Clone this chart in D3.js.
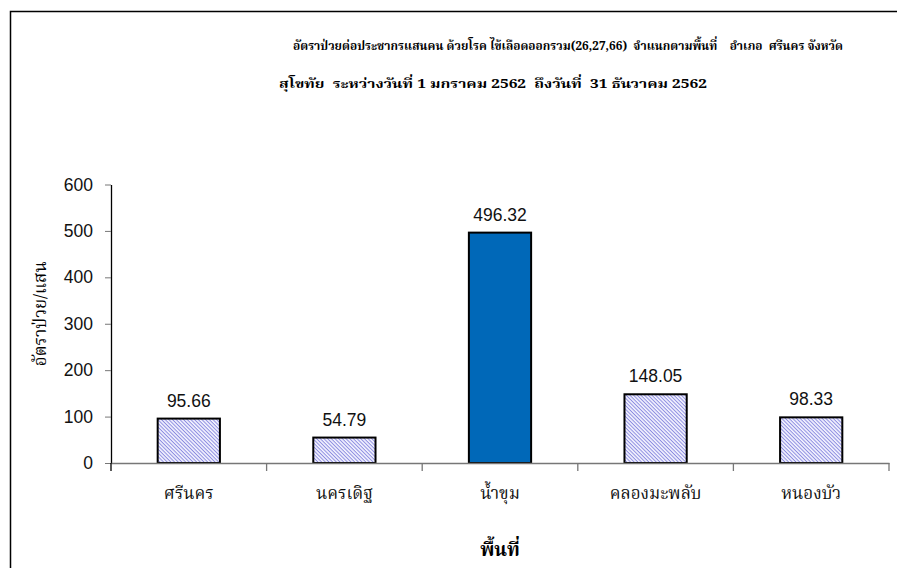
<!DOCTYPE html>
<html>
<head>
<meta charset="utf-8">
<script src="https://cdn.jsdelivr.net/npm/d3@7/dist/d3.min.js"></script>
<style>
  html, body { margin: 0; padding: 0; background: #fff; }
  svg { display: block; }
</style>
</head>
<body>
<svg id="chart" width="897" height="568"></svg>
<script>
const categories = ["ศรีนคร", "นครเดิฐ", "น้ำขุม", "คลองมะพลับ", "หนองบัว"];
const values = [95.66, 54.79, 496.32, 148.05, 98.33];
const highlighted = [false, false, true, false, false];
const yTicks = [0, 100, 200, 300, 400, 500, 600];
const titleLine1 = "อัตราป่วยต่อประชากรแสนคน ด้วยโรค ไข้เลือดออกรวม(26,27,66)  จำแนกตามพื้นที่    อำเภอ  ศรีนคร จังหวัด";
const titleLine2 = "สุโขทัย  ระหว่างวันที่ 1 มกราคม 2562  ถึงวันที่  31 ธันวาคม 2562";
const yTitle = "อัตราป่วย/แสน";
const xTitle = "พื้นที่";

const svg = d3.select("#chart");
const thaiFont = "'Noto Serif Thai', 'Noto Sans Thai', 'Tlwg Typo', 'Loma', 'DejaVu Serif', serif";
const numFont = "'Liberation Sans', Arial, sans-serif";

// outer frame
svg.append("path")
  .attr("d", "M10.5,568 L10.5,11.5 L897,11.5")
  .attr("fill", "none").attr("stroke", "#000").attr("stroke-width", 1.5);

// hatch pattern
const defs = svg.append("defs");
const pat = defs.append("pattern")
  .attr("id", "hatch").attr("patternUnits", "userSpaceOnUse")
  .attr("width", 2.6).attr("height", 2.6)
  .attr("patternTransform", "rotate(45)");
pat.append("rect").attr("width", 2.6).attr("height", 2.6).attr("fill", "#f4f4ff");
pat.append("rect").attr("width", 2.6).attr("height", 1.0).attr("fill", "#8c8ce0");

const pLeft = 111, pRight = 889, pTop = 184.5, pBottom = 463;
const x = d3.scaleBand().domain(categories).range([pLeft, pRight]).paddingInner(0.6).paddingOuter(0.3);
const xb = d3.scaleBand().domain(categories).range([pLeft, pRight]);
const y = d3.scaleLinear().domain([0, 600]).range([pBottom, pTop]);

// titles
svg.append("text").attr("x", 293).attr("y", 50)
  .style("white-space", "pre")
  .attr("font-family", thaiFont).attr("font-weight", "bold").attr("font-size", 13)
  .attr("textLength", 550).attr("lengthAdjust", "spacingAndGlyphs")
  .text(titleLine1);
svg.append("text").attr("x", 279).attr("y", 88)
  .style("white-space", "pre")
  .attr("font-family", thaiFont).attr("font-weight", "bold").attr("font-size", 13)
  .attr("textLength", 428).attr("lengthAdjust", "spacingAndGlyphs")
  .text(titleLine2);

// bars
svg.selectAll("rect.bar").data(categories).enter().append("rect")
  .attr("class", "bar")
  .attr("x", d => x(d))
  .attr("width", x.bandwidth())
  .attr("y", (d, i) => y(values[i]))
  .attr("height", (d, i) => y(0) - y(values[i]))
  .attr("fill", (d, i) => highlighted[i] ? "#0068b8" : "url(#hatch)")
  .attr("stroke", "#000").attr("stroke-width", 2);

// value labels
svg.selectAll("text.val").data(categories).enter().append("text")
  .attr("class", "val")
  .attr("x", d => x(d) + x.bandwidth() / 2)
  .attr("y", (d, i) => y(values[i]) - 12)
  .attr("text-anchor", "middle")
  .attr("font-family", numFont).attr("font-size", 17.5)
  .attr("fill", "#111")
  .text((d, i) => values[i].toFixed(2));

// y axis
const yAxis = svg.append("g").attr("transform", `translate(${pLeft},0)`)
  .call(d3.axisLeft(y).tickValues(yTicks).tickSize(6).tickSizeOuter(0).tickPadding(12));
yAxis.select(".domain").attr("stroke", "#000").attr("stroke-width", 1.3);
yAxis.selectAll(".tick line").attr("stroke", "#777");
yAxis.selectAll(".tick text").attr("font-family", numFont).attr("font-size", 17.5).attr("fill", "#111");

// x axis
const xAxis = svg.append("g").attr("transform", `translate(0,${pBottom})`)
  .call(d3.axisBottom(xb).tickSize(0).tickSizeOuter(0).tickPadding(24));
xAxis.select(".domain").attr("stroke", "#777").attr("stroke-width", 1.3);
xAxis.selectAll(".tick text").attr("font-family", thaiFont).attr("font-size", 17).attr("fill", "#111");
// category boundary ticks
const bounds = categories.map(c => xb(c)).concat([pRight]);
svg.selectAll("line.xt").data(bounds.slice(1)).enter().append("line")
  .attr("class", "xt")
  .attr("x1", d => d).attr("x2", d => d)
  .attr("y1", pBottom).attr("y2", pBottom + 8)
  .attr("stroke", "#777").attr("stroke-width", 1.3);
svg.append("line").attr("x1", pLeft).attr("x2", pLeft).attr("y1", pBottom).attr("y2", pBottom + 8)
  .attr("stroke", "#000").attr("stroke-width", 1.3);

// axis titles
svg.append("text")
  .attr("transform", `translate(46,${(pTop + pBottom) / 2 - 10}) rotate(-90)`)
  .attr("text-anchor", "middle")
  .attr("font-family", thaiFont).attr("font-size", 17)
  .text(yTitle);
svg.append("text").attr("x", 500).attr("y", 556)
  .attr("text-anchor", "middle")
  .attr("font-family", thaiFont).attr("font-weight", "bold").attr("font-size", 19)
  .text(xTitle);
</script>
</body>
</html>
